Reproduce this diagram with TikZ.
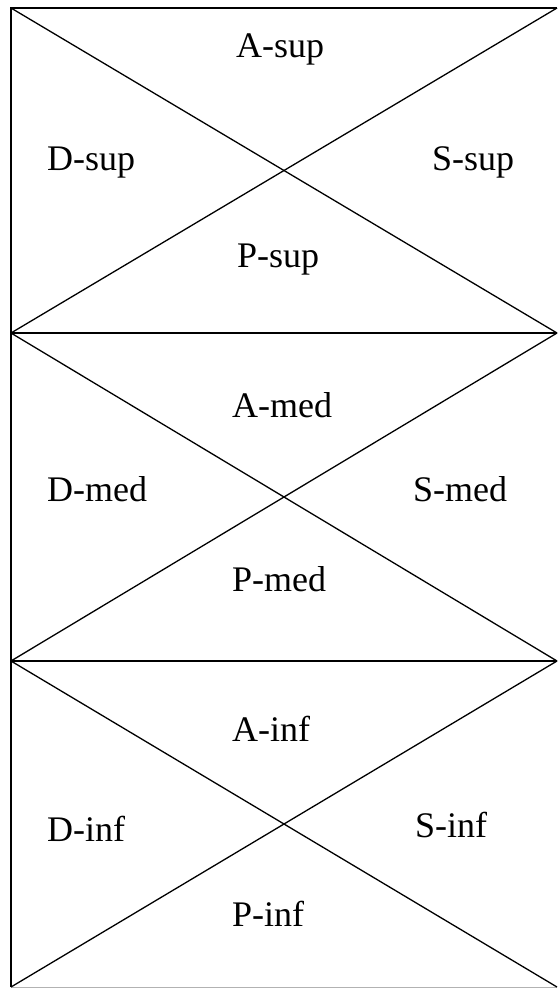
\documentclass[tikz,border=0pt]{standalone}
\usepackage{fontspec}
\setmainfont{Liberation Serif}
\begin{document}
\begin{tikzpicture}[x=1pt,y=-1pt,
  frame/.style={line width=2.8pt,black},
  diag/.style={line width=1.3pt,black},
  lbl/.style={inner sep=0pt,anchor=base west,font=\fontsize{36}{40}\selectfont}]
\useasboundingbox (0,0) rectangle (557,988);
% corners
\coordinate (l0) at (11,8);   \coordinate (r0) at (557,8);
\coordinate (l1) at (11,333); \coordinate (r1) at (557,333);
\coordinate (l2) at (11,661); \coordinate (r2) at (557,661);
\coordinate (l3) at (11,987); \coordinate (r3) at (557,987);
% frame
\draw[frame] (r0) -- (l0) -- (l3);
\draw[frame] (l1) -- (r1);
\draw[frame] (l2) -- (r2);
\draw[line width=0.8pt,black!30] (l3) -- (r3);
% diagonals
\draw[diag] (l0) -- (r1); \draw[diag] (l1) -- (r0);
\draw[diag] (l1) -- (r2); \draw[diag] (l2) -- (r1);
\draw[diag] (l2) -- (r3); \draw[diag] (l3) -- (r2);
% labels
\node[lbl] (asup) at (236,57) {A-sup};
\node[lbl] (dsup) at (47,170) {D-sup};
\node[lbl] (ssup) at (432,170) {S-sup};
\node[lbl] (psup) at (237,267) {P-sup};
\node[lbl] (amed) at (232,417) {A-med};
\node[lbl] (dmed) at (47,501) {D-med};
\node[lbl] (smed) at (413,501) {S-med};
\node[lbl] (pmed) at (232,591) {P-med};
\node[lbl] (ainf) at (232,741) {A-inf};
\node[lbl] (dinf) at (47,841) {D-inf};
\node[lbl] (sinf) at (415,837) {S-inf};
\node[lbl] (pinf) at (232,926) {P-inf};
\end{tikzpicture}
\end{document}
